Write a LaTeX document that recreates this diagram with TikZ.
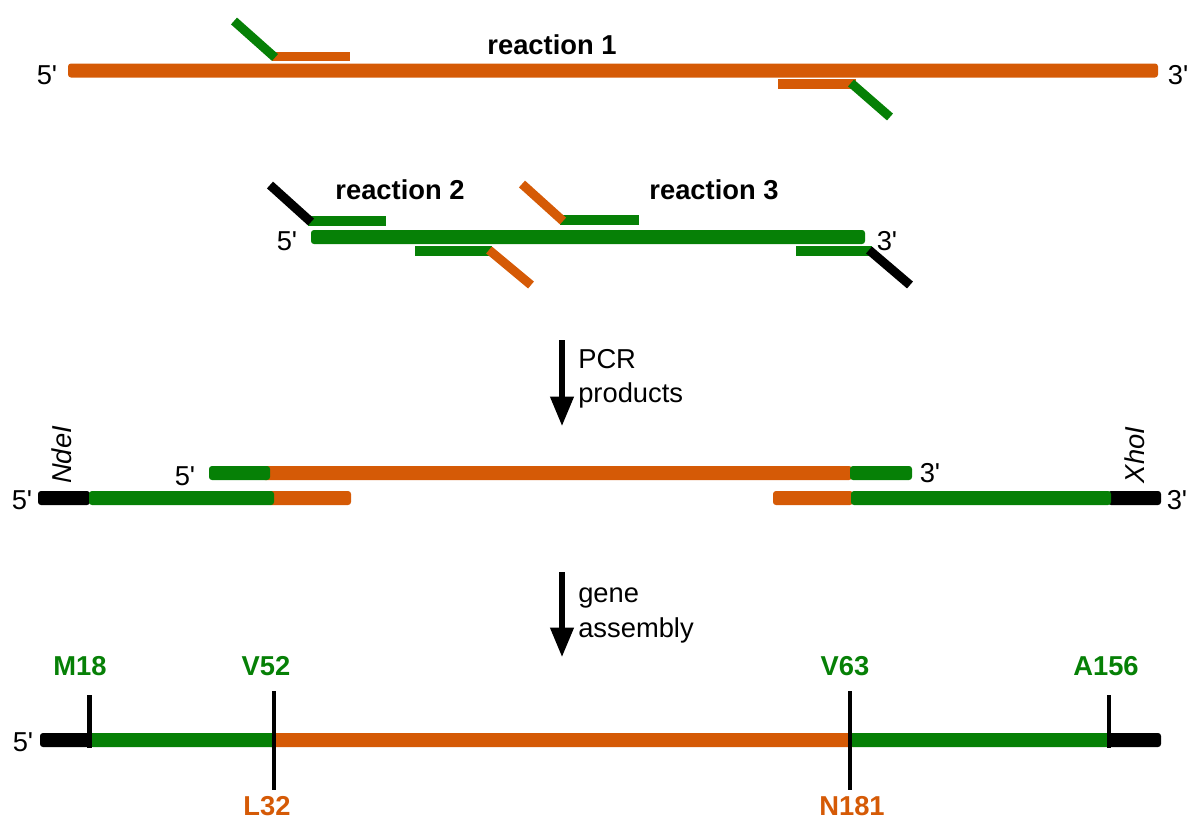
\documentclass[tikz,border=0pt]{standalone}
\usepackage{fontspec}
\setmainfont{Liberation Sans}
\usetikzlibrary{arrows.meta}
\definecolor{dnaor}{RGB}{213,90,6}
\definecolor{dnagr}{RGB}{6,128,6}
\newcommand\dnaseg[4]{\fill[#1,rounded corners=2.2pt] (#2,#3-7) rectangle (#4,#3+7);}
\newcommand\pq{\textquotesingle}
\begin{document}
\begin{tikzpicture}[x=0.75pt,y=-0.75pt,
  primer/.style={line width=6.8pt},
  lbl/.style={font=\fontsize{20.5}{24}\selectfont, inner sep=0pt},
  rxn/.style={font=\fontsize{20.5}{24}\selectfont\bfseries, inner sep=0pt},
  res/.style={font=\fontsize{20.5}{24}\selectfont\bfseries, inner sep=0pt},
  tickmark/.style={line width=3.6pt},
  flow/.style={line width=3.8pt, -{Triangle[width=17pt,length=22pt]}}]
\useasboundingbox (0,0) rectangle (1189,819);

% ---------- row 1 : reaction 1 ----------
\dnaseg{dnaor}{68}{70.5}{1158}
\draw[primer,dnaor] (272,56.7) -- (350,56.7);
\draw[primer,dnagr] (275,57.5) -- (234,21);
\draw[primer,dnaor] (778,84) -- (856,84);
\draw[primer,dnagr] (851,83) -- (890,117);
\node[lbl] (r1five) at (47,75) {5\pq};
\node[lbl] (r1three) at (1178,75) {3\pq};
\node[rxn] (rx1) at (552,45) {reaction 1};

% ---------- row 2 : reactions 2 and 3 ----------
\dnaseg{dnagr}{311}{237}{865}
\draw[primer,dnagr] (308,221) -- (386,221);
\draw[primer,black] (311,222) -- (270,185);
\draw[primer,dnagr] (560,220) -- (639,220);
\draw[primer,dnaor] (563,221) -- (522,184);
\draw[primer,dnagr] (415,251) -- (492,251);
\draw[primer,dnaor] (489,250) -- (531,285);
\draw[primer,dnagr] (796,251) -- (872,251);
\draw[primer,black] (869,250) -- (910,285);
\node[lbl] (r2five) at (287,241) {5\pq};
\node[lbl] (r2three) at (887,241) {3\pq};
\node[rxn] (rx2) at (400,190) {reaction 2};
\node[rxn] (rx3) at (714,190) {reaction 3};

% ---------- arrow 1 ----------
\coordinate (a1s) at (562,340);
\coordinate (a1e) at (562,426);
\draw[flow] (a1s) -- (a1e);
\node[lbl, anchor=base west] (pcr) at (578,368) {PCR};
\node[lbl, anchor=base west] (prod) at (578,402) {products};

% ---------- row 3 : PCR products ----------
\dnaseg{dnaor}{262}{473}{852}
\dnaseg{dnagr}{209}{473}{270}
\dnaseg{dnagr}{850}{473}{912}
\dnaseg{dnaor}{268}{498}{351}
\dnaseg{black}{38}{498}{90}
\dnaseg{dnagr}{89}{498}{274}
\dnaseg{dnaor}{773}{498}{853}
\dnaseg{black}{1108}{498}{1161}
\dnaseg{dnagr}{851}{498}{1111}
\node[lbl] (p5a) at (185,476) {5\pq};
\node[lbl] (p3a) at (930,473) {3\pq};
\node[lbl] (p5b) at (22,500) {5\pq};
\node[lbl] (p3b) at (1177,500) {3\pq};
\node[lbl, rotate=90] (nde) at (62,455) {\itshape NdeI};
\node[lbl, rotate=90] (xho) at (1135,455) {\itshape XhoI};

% ---------- arrow 2 ----------
\coordinate (a2s) at (562,572);
\coordinate (a2e) at (562,657);
\draw[flow] (a2s) -- (a2e);
\node[lbl, anchor=base west] (gene) at (578,602) {gene};
\node[lbl, anchor=base west] (assem) at (578,637) {assembly};

% ---------- row 4 : assembled gene ----------
\dnaseg{dnaor}{268}{740}{856}
\dnaseg{black}{40}{740}{95}
\dnaseg{dnagr}{90}{740}{275}
\dnaseg{black}{1104}{740}{1161}
\dnaseg{dnagr}{850}{740}{1110}
\coordinate (t1a) at (89.5,695);  \coordinate (t1b) at (89.5,748);
\coordinate (t2a) at (274,691); \coordinate (t2b) at (274,790);
\coordinate (t3a) at (850,691); \coordinate (t3b) at (850,790);
\coordinate (t4a) at (1109,695); \coordinate (t4b) at (1109,748);
\draw[tickmark] (t1a) -- (t1b);
\draw[tickmark] (t2a) -- (t2b);
\draw[tickmark] (t3a) -- (t3b);
\draw[tickmark] (t4a) -- (t4b);
\node[lbl] (g5) at (23,742) {5\pq};
\node[res, text=dnagr] (m18) at (80,666) {M18};
\node[res, text=dnagr] (v52) at (266,666) {V52};
\node[res, text=dnagr] (v63) at (845,666) {V63};
\node[res, text=dnagr] (a156) at (1106,666) {A156};
\node[res, text=dnaor] (l32) at (267,806) {L32};
\node[res, text=dnaor] (n181) at (852,806) {N181};
\end{tikzpicture}
\end{document}
